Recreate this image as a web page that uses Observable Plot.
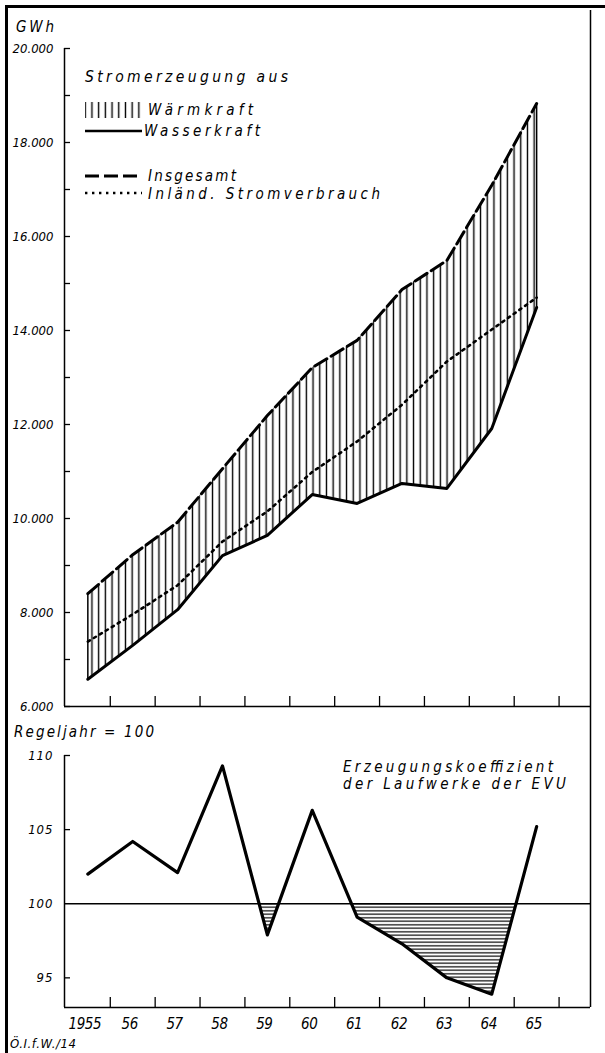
<!DOCTYPE html>
<html><head><meta charset="utf-8">
<script src="https://cdn.jsdelivr.net/npm/d3@7"></script>
<script src="https://cdn.jsdelivr.net/npm/@observablehq/plot@0.6"></script>
<style>
html,body{margin:0;padding:0;background:#fff;}
#wrap{position:relative;width:605px;height:1053px;overflow:hidden;background:#fff;}
#top,#bot,#over{position:absolute;left:0;}
#top{top:0}#bot{top:720px}#over{top:0;pointer-events:none}
.frameTop{position:absolute;left:5px;top:5px;width:600px;height:3px;background:#000;}
.frameLeft{position:absolute;left:5px;top:5px;width:3px;height:1048px;background:#000;}
</style></head><body>
<div id="wrap"><div class="frameTop"></div><div class="frameLeft"></div><div id="top"></div><div id="bot"></div><svg id="over" width="605" height="1053"></svg></div>
<script>
// ---- data ----
const years = [1955, 1956, 1957, 1958, 1959, 1960, 1961, 1962, 1963, 1964, 1965];
const insgesamt = [8400, 9230, 9920, 11060, 12190, 13210, 13790, 14870, 15490, 17090, 18830];
const wasserkraft = [6580, 7300, 8060, 9210, 9640, 10510, 10320, 10745, 10640, 11915, 14490];
const inlandVerbrauch = [7380, 7960, 8580, 9510, 10150, 10990, 11640, 12420, 13340, 14020, 14700];
const koeffizient = [102, 104.2, 102.1, 109.3, 97.9, 106.3, 99.1, 97.3, 95, 93.9, 105.2];

const yTopMinorTicks = [6000, 7000, 8000, 9000, 10000, 11000, 12000, 13000, 14000, 15000, 16000, 17000, 18000, 19000, 20000];
const yTopLabelTicks = [6000, 8000, 10000, 12000, 14000, 16000, 18000, 20000];
const yTopLabels = ["6.000", "8.000", "10.000", "12.000", "14.000", "16.000", "18.000", "20.000"];
const yBotTicks = [95, 105, 110];
const yBotLabelTicks = [95, 100, 105, 110];
const yBotLabels = ["95", "100", "105", "110"];
const xHalfTicks = [1955.5, 1956.5, 1957.5, 1958.5, 1959.5, 1960.5, 1961.5, 1962.5, 1963.5, 1964.5, 1965.5];
const yearLabels = ["1955", "56", "57", "58", "59", "60", "61", "62", "63", "64", "65"];
const legendTitle = "Stromerzeugung aus";
const legendLabels = ["Wärmkraft", "Wasserkraft", "Insgesamt", "Inländ. Stromverbrauch"];
const unitLabel = "GWh";
const lowerUnitLabel = "Regeljahr = 100";
const annotationLines = ["Erzeugungskoeffizient", "der Laufwerke der EVU"];
const caption = "Ö.I.f.W./14";

const xDomain = [1954.48, 1966.2];
const FONT = '"DejaVu Sans Condensed","DejaVu Sans",sans-serif';
const svgStyle = `font-family:${FONT};font-style:italic;background:transparent;color:#000;overflow:visible;`;

const rowsTop = years.map((y, i) => ({year: y, total: insgesamt[i], hydro: wasserkraft[i], inland: inlandVerbrauch[i]}));
const rowsBot = years.map((y, i) => ({year: y, k: koeffizient[i]}));

const topPlot = Plot.plot({
  width: 605, height: 720,
  marginLeft: 64, marginRight: 15, marginTop: 48, marginBottom: 14,
  style: svgStyle,
  x: {domain: xDomain, axis: null, label: null},
  y: {domain: [6000, 20000], axis: null, label: null},
  marks: [
    Plot.areaY(rowsTop, {x: "year", y1: "hydro", y2: "total", fill: "url(#vhatch)"}),
    Plot.ruleX([rowsTop[0], rowsTop[rowsTop.length - 1]], {x: "year", y1: "hydro", y2: "total", stroke: "#000", strokeWidth: 1.5}),
    Plot.line(rowsTop, {x: "year", y: "inland", stroke: "#000", strokeWidth: 2.6, strokeDasharray: "2.4,4.6"}),
    Plot.line(rowsTop, {x: "year", y: "hydro", stroke: "#000", strokeWidth: 3}),
    Plot.line(rowsTop, {x: "year", y: "total", stroke: "#000", strokeWidth: 3, strokeDasharray: "14,5"}),
    Plot.ruleX([xDomain[0]], {stroke: "#000", strokeWidth: 1.5}),
    Plot.ruleX([xDomain[1]], {stroke: "#000", strokeWidth: 1.5, insetTop: -38, insetBottom: -14}),
    Plot.ruleY([6000], {stroke: "#000", strokeWidth: 1.5}),
    Plot.axisY({ticks: yTopMinorTicks, tickSize: -6, fill: "none", stroke: "#000", strokeWidth: 1.3, label: null}),
    Plot.axisY({ticks: yTopLabelTicks, tickSize: 0, tickPadding: 11, fontSize: 13,
      tickFormat: d => yTopLabels[yTopLabelTicks.indexOf(d)], label: null}),
    Plot.axisX({ticks: xHalfTicks, tickSize: -10, fill: "none", stroke: "#000", strokeWidth: 1.3, label: null})
  ]
});
document.getElementById("top").appendChild(topPlot);

const botPlot = Plot.plot({
  width: 605, height: 333,
  marginLeft: 64, marginRight: 15, marginTop: 35, marginBottom: 46,
  style: svgStyle,
  x: {domain: xDomain, axis: null, label: null},
  y: {domain: [93, 110], axis: null, label: null},
  marks: [
    Plot.areaY(rowsBot, {x: "year", y1: 100, y2: "k", fill: "url(#hhatch)"}),
    Plot.ruleY([100], {stroke: "#000", strokeWidth: 1.5}),
    Plot.line(rowsBot, {x: "year", y: "k", stroke: "#000", strokeWidth: 3.2}),
    Plot.ruleX([xDomain[0]], {stroke: "#000", strokeWidth: 1.5}),
    Plot.ruleX([xDomain[1]], {stroke: "#000", strokeWidth: 1.5, insetTop: -35}),
    Plot.ruleY([93], {stroke: "#000", strokeWidth: 1.5}),
    Plot.axisY({ticks: yBotTicks, tickSize: -6, fill: "none", stroke: "#000", strokeWidth: 1.3, label: null}),
    Plot.axisY({ticks: yBotLabelTicks, tickSize: 0, tickPadding: 11, fontSize: 13,
      tickFormat: d => yBotLabels[yBotLabelTicks.indexOf(d)], label: null}),
    Plot.axisX({ticks: xHalfTicks, tickSize: -10, fill: "none", stroke: "#000", strokeWidth: 1.3, label: null}),
    Plot.axisX({ticks: years, tickSize: 0, tickPadding: 11, fontSize: 15, dx: -3,
      tickFormat: d => yearLabels[years.indexOf(d)], label: null})
  ]
});
document.getElementById("bot").appendChild(botPlot);

// patterns
const topSvg = d3.select(topPlot.tagName.toLowerCase() === "svg" ? topPlot : topPlot.querySelector("svg"));
const defsT = topSvg.insert("defs", ":first-child");
const vp = defsT.append("pattern").attr("id", "vhatch").attr("patternUnits", "userSpaceOnUse")
  .attr("width", 6.7).attr("height", 10).attr("x", 1.5);
vp.append("line").attr("x1", 3.35).attr("x2", 3.35).attr("y1", -1).attr("y2", 11)
  .attr("stroke", "#000").attr("stroke-width", 1.4);

const botSvgEl = botPlot.tagName.toLowerCase() === "svg" ? botPlot : botPlot.querySelector("svg");
const botSvg = d3.select(botSvgEl);
const defsB = botSvg.insert("defs", ":first-child");
const hp = defsB.append("pattern").attr("id", "hhatch").attr("patternUnits", "userSpaceOnUse")
  .attr("width", 10).attr("height", 3.5);
hp.append("line").attr("x1", -1).attr("x2", 11).attr("y1", 1.75).attr("y2", 1.75)
  .attr("stroke", "#000").attr("stroke-width", 1.2);
const y100 = botPlot.scale("y").apply(100);
defsB.append("clipPath").attr("id", "below100").append("rect")
  .attr("x", 0).attr("y", y100).attr("width", 605).attr("height", 333 - y100);
botSvg.selectAll('g[aria-label="area"]').attr("clip-path", "url(#below100)");

// year labels: slightly condensed like the technical lettering
botSvg.selectAll('g[aria-label="x-axis tick label"] text').attr("letter-spacing", -0.4);
botSvg.selectAll('g[aria-label="y-axis tick label"] text').attr("letter-spacing", 1);

// overlay texts and legend
const over = d3.select("#over").style("font-family", FONT).style("font-style", "italic");
function txt(x, y, s, size, len) {
  over.append("text").attr("x", x).attr("y", y).attr("dominant-baseline", "central")
    .attr("font-size", size).attr("textLength", len).attr("lengthAdjust", "spacing")
    .attr("fill", "#000").text(s);
}
txt(16, 27, unitLabel, 15, 38);
txt(14, 732, lowerUnitLabel, 15, 140);
txt(10, 1043, caption, 13, 66);
txt(343, 767, annotationLines[0], 15, 210);
txt(343, 784, annotationLines[1], 15, 223);
txt(85, 77, legendTitle, 15.5, 203);
txt(148, 110, legendLabels[0], 15, 105);
txt(144, 131, legendLabels[1], 15, 116);
txt(148, 176, legendLabels[2], 15, 88);
txt(148, 194, legendLabels[3], 15, 232);
over.append("rect").attr("x", 85).attr("y", 102).attr("width", 57).attr("height", 16).attr("fill", "url(#vhatch)");
over.append("line").attr("x1", 85).attr("x2", 142).attr("y1", 131).attr("y2", 131).attr("stroke", "#000").attr("stroke-width", 2.6);
over.append("line").attr("x1", 85).attr("x2", 142).attr("y1", 176).attr("y2", 176).attr("stroke", "#000").attr("stroke-width", 3).attr("stroke-dasharray", "14,5");
over.append("line").attr("x1", 85).attr("x2", 142).attr("y1", 193).attr("y2", 193).attr("stroke", "#000").attr("stroke-width", 2.4).attr("stroke-dasharray", "2.4,4.6");
</script></body></html>
